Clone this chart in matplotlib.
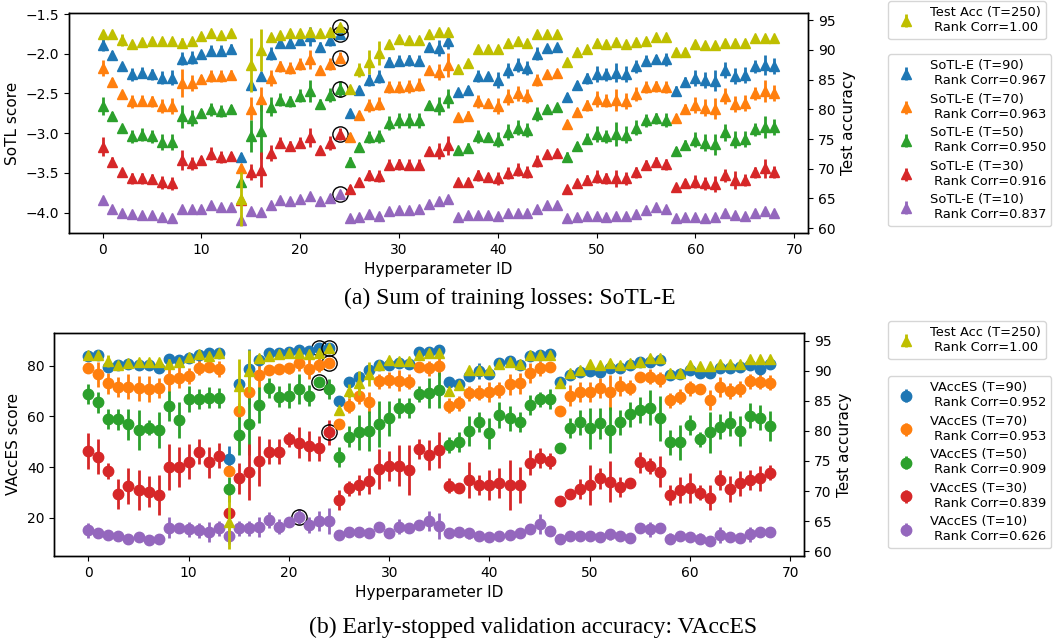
import numpy as np
import matplotlib
matplotlib.use("Agg")
import matplotlib.pyplot as plt

ids = list(range(69))

# ---------------- Panel (a): SoTL-E ----------------
test_acc = [92.6, 92.6, 91.6, 91.0, 91.35, 91.5, 91.5, 91.5, 91.2, 91.5, 92.25, 92.75, 92.5, 92.9,
            64.9, 87.4, 90.0, 92.2, 92.5, 92.75, 92.9, 93.0, 92.75, 93.0, 93.8,
            83.4, 86.6, 88.0, 89.4, 91.0, 91.8, 91.6, 91.7, 92.6, 93.0, 93.0,
            86.7, 87.7, 90.1, 90.1, 90.1, 91.2, 91.4, 91.2, 92.6, 92.7, 92.7,
            88.0, 89.7, 90.2, 91.1, 91.0, 91.35, 91.0, 91.35, 91.5, 92.1, 92.1,
            89.6, 89.7, 91.0, 90.8, 90.8, 91.1, 91.1, 91.2, 91.9, 91.9, 91.9]
test_acc_err = [0.2, 0.2, 1.0, 0.2, 0.2, 0.2, 0.2, 0.2, 0.8, 0.2, 0.2, 0.2, 0.2, 0.2,
                4.5, 4.5, 3.5, 0.4, 0.2, 0.2, 0.2, 0.3, 0.2, 0.2, 0.2,
                0.3, 1.2, 2.0, 2.0, 0.2, 0.3, 0.4, 0.3, 0.2, 0.3, 0.3,
                0.2, 0.3, 0.4, 0.2, 0.4, 0.3, 0.2, 0.2, 0.3, 0.2, 0.2,
                0.4, 0.3, 0.2, 0.2, 0.2, 0.3, 0.2, 0.2, 0.2, 0.2, 0.2,
                0.3, 0.2, 0.3, 0.2, 0.2, 0.2, 0.2, 0.2, 0.3, 0.2, 0.2]

sotl_T90 = [-1.89, -2.02, -2.16, -2.26, -2.24, -2.26, -2.30, -2.30, -2.06, -2.05, -2.00, -1.96, -1.96, -1.94,
            -3.30, -2.39, -2.28, -2.00, -1.86, -1.86, -1.83, -1.78, -1.91, -1.83, -1.75,
            -2.75, -2.46, -2.33, -2.29, -2.10, -2.09, -2.08, -2.09, -1.91, -1.93, -1.84,
            -2.48, -2.46, -2.28, -2.28, -2.33, -2.21, -2.14, -2.18, -2.00, -1.93, -1.92,
            -2.54, -2.39, -2.31, -2.25, -2.26, -2.24, -2.25, -2.16, -2.09, -2.07, -2.07,
            -2.47, -2.35, -2.30, -2.33, -2.34, -2.21, -2.28, -2.27, -2.16, -2.14, -2.15]
sotl_T70 = [-2.18, -2.35, -2.51, -2.60, -2.59, -2.60, -2.66, -2.66, -2.37, -2.37, -2.32, -2.28, -2.28, -2.27,
            -3.44, -2.69, -2.57, -2.30, -2.16, -2.18, -2.13, -2.07, -2.21, -2.13, -2.05,
            -3.05, -2.77, -2.65, -2.63, -2.42, -2.42, -2.41, -2.39, -2.21, -2.23, -2.14,
            -2.80, -2.78, -2.60, -2.62, -2.66, -2.54, -2.50, -2.53, -2.33, -2.26, -2.24,
            -2.89, -2.73, -2.65, -2.57, -2.59, -2.58, -2.59, -2.51, -2.42, -2.41, -2.42,
            -2.81, -2.69, -2.64, -2.68, -2.69, -2.53, -2.63, -2.62, -2.50, -2.47, -2.49]
sotl_T50 = [-2.66, -2.78, -2.94, -3.04, -3.02, -3.04, -3.11, -3.11, -2.79, -2.81, -2.75, -2.70, -2.72, -2.70,
            -3.62, -3.04, -2.97, -2.67, -2.58, -2.60, -2.53, -2.47, -2.63, -2.52, -2.44,
            -3.36, -3.17, -3.05, -3.04, -2.87, -2.84, -2.84, -2.84, -2.65, -2.66, -2.56,
            -3.21, -3.19, -3.04, -3.05, -3.08, -2.98, -2.93, -2.96, -2.76, -2.69, -2.67,
            -3.30, -3.16, -3.07, -3.01, -3.04, -3.01, -3.02, -2.93, -2.84, -2.81, -2.83,
            -3.23, -3.15, -3.08, -3.12, -3.14, -2.99, -3.08, -3.07, -2.95, -2.92, -2.92]
sotl_T30 = [-3.17, -3.36, -3.49, -3.57, -3.57, -3.58, -3.62, -3.63, -3.34, -3.38, -3.34, -3.26, -3.30, -3.29,
            -3.84, -3.49, -3.46, -3.25, -3.12, -3.16, -3.12, -3.05, -3.21, -3.12, -3.01,
            -3.70, -3.61, -3.53, -3.54, -3.40, -3.39, -3.40, -3.40, -3.23, -3.23, -3.15,
            -3.62, -3.61, -3.53, -3.55, -3.57, -3.50, -3.46, -3.49, -3.35, -3.26, -3.25,
            -3.70, -3.63, -3.59, -3.55, -3.57, -3.57, -3.57, -3.49, -3.40, -3.36, -3.39,
            -3.68, -3.63, -3.61, -3.63, -3.64, -3.53, -3.59, -3.59, -3.49, -3.44, -3.49]
sotl_T10 = [-3.84, -3.95, -4.00, -4.02, -4.03, -4.03, -4.05, -4.07, -3.95, -3.96, -3.95, -3.91, -3.93, -3.93,
            -4.09, -3.98, -3.99, -3.91, -3.84, -3.85, -3.83, -3.79, -3.85, -3.82, -3.77,
            -4.07, -4.05, -4.02, -4.04, -3.98, -3.97, -3.97, -3.96, -3.89, -3.86, -3.83,
            -4.05, -4.03, -4.03, -4.03, -4.04, -4.00, -4.00, -4.00, -3.95, -3.91, -3.90,
            -4.07, -4.06, -4.04, -4.04, -4.06, -4.04, -4.04, -4.02, -3.97, -3.93, -3.96,
            -4.07, -4.06, -4.05, -4.07, -4.06, -4.01, -4.03, -4.04, -4.01, -3.98, -4.00]

sotl_T90_err = [0.08, 0.05, 0.04, 0.08, 0.07, 0.07, 0.08, 0.09, 0.08, 0.08, 0.04, 0.07, 0.07, 0.06,
                0.05, 0.05, 0.05, 0.08, 0.06, 0.06, 0.06, 0.12, 0.06, 0.07, 0.05,
                0.05, 0.06, 0.08, 0.08, 0.06, 0.07, 0.07, 0.07, 0.04, 0.10, 0.10,
                0.04, 0.06, 0.08, 0.04, 0.10, 0.09, 0.09, 0.09, 0.08, 0.04, 0.04,
                0.05, 0.05, 0.07, 0.10, 0.08, 0.12, 0.10, 0.08, 0.07, 0.06, 0.08,
                0.06, 0.06, 0.10, 0.10, 0.13, 0.10, 0.10, 0.10, 0.08, 0.13, 0.10]
sotl_T70_err = [0.10, 0.05, 0.04, 0.08, 0.07, 0.07, 0.09, 0.10, 0.18, 0.10, 0.05, 0.08, 0.08, 0.06,
                0.05, 0.15, 0.15, 0.10, 0.07, 0.07, 0.08, 0.12, 0.05, 0.08, 0.07,
                0.05, 0.05, 0.08, 0.08, 0.08, 0.08, 0.08, 0.08, 0.04, 0.10, 0.15,
                0.04, 0.06, 0.08, 0.05, 0.10, 0.10, 0.09, 0.09, 0.08, 0.04, 0.04,
                0.06, 0.05, 0.07, 0.10, 0.08, 0.14, 0.10, 0.09, 0.08, 0.07, 0.08,
                0.05, 0.06, 0.10, 0.11, 0.13, 0.10, 0.10, 0.10, 0.08, 0.14, 0.10]
sotl_T50_err = [0.11, 0.05, 0.04, 0.08, 0.08, 0.08, 0.10, 0.10, 0.15, 0.10, 0.05, 0.08, 0.08, 0.06,
                0.06, 0.20, 0.35, 0.12, 0.08, 0.07, 0.08, 0.14, 0.06, 0.09, 0.10,
                0.06, 0.05, 0.08, 0.08, 0.09, 0.09, 0.09, 0.09, 0.05, 0.11, 0.12,
                0.04, 0.06, 0.08, 0.05, 0.10, 0.10, 0.09, 0.09, 0.09, 0.05, 0.04,
                0.06, 0.05, 0.07, 0.10, 0.08, 0.15, 0.11, 0.09, 0.08, 0.07, 0.09,
                0.05, 0.06, 0.10, 0.11, 0.13, 0.11, 0.11, 0.10, 0.08, 0.14, 0.10]
sotl_T30_err = [0.12, 0.06, 0.04, 0.07, 0.07, 0.06, 0.08, 0.08, 0.13, 0.08, 0.05, 0.08, 0.08, 0.05,
                0.05, 0.10, 0.22, 0.10, 0.07, 0.06, 0.07, 0.12, 0.05, 0.09, 0.08,
                0.05, 0.04, 0.07, 0.07, 0.07, 0.07, 0.07, 0.07, 0.05, 0.10, 0.12,
                0.04, 0.05, 0.07, 0.05, 0.08, 0.08, 0.08, 0.08, 0.08, 0.04, 0.04,
                0.04, 0.04, 0.06, 0.08, 0.07, 0.11, 0.08, 0.07, 0.06, 0.06, 0.07,
                0.04, 0.05, 0.08, 0.08, 0.10, 0.08, 0.11, 0.08, 0.07, 0.12, 0.08]
sotl_T10_err = [0.03, 0.02, 0.02, 0.02, 0.02, 0.02, 0.02, 0.02, 0.02, 0.02, 0.02, 0.02, 0.02, 0.02,
                0.02, 0.02, 0.04, 0.02, 0.02, 0.02, 0.02, 0.02, 0.02, 0.02, 0.02,
                0.02, 0.02, 0.02, 0.02, 0.02, 0.02, 0.02, 0.02, 0.02, 0.02, 0.03,
                0.02, 0.02, 0.02, 0.02, 0.02, 0.02, 0.02, 0.02, 0.02, 0.02, 0.02,
                0.02, 0.02, 0.02, 0.02, 0.02, 0.02, 0.02, 0.02, 0.02, 0.02, 0.02,
                0.02, 0.02, 0.02, 0.02, 0.02, 0.02, 0.02, 0.02, 0.02, 0.03, 0.02]

sotl_labels = ["SoTL-E (T=90)\n Rank Corr=0.967", "SoTL-E (T=70)\n Rank Corr=0.963",
               "SoTL-E (T=50)\n Rank Corr=0.950", "SoTL-E (T=30)\n Rank Corr=0.916",
               "SoTL-E (T=10)\n Rank Corr=0.837"]
acc_label = "Test Acc (T=250)\n Rank Corr=1.00"

# ---------------- Panel (b): VAccES ----------------
vacc_T90 = [83.9, 84.2, 79.6, 80.3, 80.5, 80.3, 80.3, 79.0, 82.6, 82.2, 83.2, 84.2, 84.9, 84.9,
            43.2, 72.6, 78.7, 82.2, 84.9, 84.9, 85.3, 86.2, 85.8, 87.1, 86.8,
            66.2, 73.7, 75.7, 78.3, 80.3, 80.3, 80.9, 80.5, 85.3, 85.3, 86.2,
            73.4, 72.6, 76.1, 77.9, 76.6, 80.9, 81.8, 80.3, 83.9, 84.2, 84.6,
            73.4, 76.3, 77.6, 77.9, 77.6, 79.2, 79.0, 80.3, 81.6, 81.6, 82.2,
            76.3, 76.6, 78.3, 77.0, 77.0, 79.2, 79.2, 79.6, 80.3, 78.7, 80.5]
vacc_T70 = [78.9, 76.6, 73.0, 71.7, 71.7, 71.1, 70.8, 71.3, 74.7, 75.3, 75.9, 79.2, 79.6, 78.7,
            38.4, 62.1, 69.7, 76.3, 78.3, 78.6, 78.9, 80.9, 78.7, 80.3, 81.2,
            57.0, 64.2, 68.0, 65.5, 73.9, 74.3, 74.1, 73.7, 79.3, 78.9, 79.9,
            64.2, 65.1, 69.1, 69.3, 69.5, 70.4, 72.6, 73.0, 77.2, 78.9, 79.3,
            62.1, 68.2, 69.5, 69.5, 71.1, 69.5, 72.1, 71.3, 75.4, 75.7, 74.6,
            66.4, 67.8, 71.1, 70.8, 66.4, 71.7, 70.0, 70.8, 73.9, 73.7, 73.3]
vacc_T50 = [68.7, 65.5, 58.9, 58.8, 56.8, 54.6, 55.5, 54.6, 64.1, 58.6, 66.8, 66.8, 67.4, 67.1,
            31.2, 52.6, 56.8, 64.5, 71.1, 67.8, 68.2, 70.8, 68.2, 73.4, 70.8,
            44.1, 52.0, 53.7, 54.2, 57.0, 59.2, 63.2, 63.4, 68.8, 69.1, 70.4,
            48.7, 50.0, 54.3, 57.9, 53.3, 60.5, 59.2, 57.9, 64.5, 66.8, 66.8,
            47.4, 55.3, 57.6, 55.3, 57.2, 54.6, 57.6, 60.8, 62.5, 63.4, 59.2,
            49.7, 49.7, 56.6, 50.9, 53.7, 55.9, 57.2, 54.2, 60.3, 59.5, 56.2]
vacc_T30 = [46.3, 44.1, 38.4, 29.3, 32.6, 30.9, 30.3, 28.9, 40.1, 40.1, 42.1, 46.1, 41.8, 44.5,
            21.7, 35.5, 37.9, 42.4, 46.1, 46.1, 50.9, 49.6, 48.4, 47.4, 53.7,
            27.0, 31.6, 32.9, 34.5, 39.2, 40.5, 40.5, 38.8, 47.1, 44.7, 46.7,
            32.6, 31.6, 34.9, 32.9, 32.9, 33.6, 32.9, 32.9, 41.7, 43.7, 42.4,
            26.7, 29.3, 31.3, 32.9, 35.5, 34.2, 32.0, 33.6, 41.8, 40.4, 38.2,
            28.9, 30.9, 31.8, 29.9, 27.9, 34.9, 31.3, 33.6, 34.9, 35.5, 37.8]
vacc_T10 = [15.1, 14.1, 13.2, 12.8, 11.6, 12.2, 11.4, 11.8, 16.1, 15.8, 15.4, 15.1, 14.5, 15.8,
            12.8, 15.8, 15.8, 16.4, 19.1, 16.4, 18.2, 20.4, 17.1, 18.7, 18.7,
            13.2, 14.5, 14.5, 14.1, 16.4, 14.1, 16.4, 15.8, 17.1, 18.7, 16.8,
            13.8, 14.2, 13.8, 12.9, 12.5, 12.9, 13.2, 14.1, 15.4, 17.4, 14.9,
            11.6, 12.9, 12.9, 12.8, 12.2, 13.4, 12.9, 12.1, 16.1, 15.4, 16.1,
            11.8, 12.8, 12.5, 11.8, 10.8, 13.2, 12.5, 12.1, 13.4, 14.2, 14.2]

vacc_T90_err = [1, 1, 1, 1, 1, 1, 1, 1, 1, 1, 1, 1, 1, 1,
                5, 1, 8, 1, 1, 1, 1, 1, 1, 1, 1,
                1, 1, 1, 1, 1, 1, 1, 1, 1, 2, 1,
                1, 2, 1, 3, 1, 1, 1, 1, 1, 1, 1,
                1, 1, 1, 1, 1, 2, 1, 1, 1, 1, 1,
                1, 1, 1, 2, 2, 1, 1, 1, 1, 1, 1]
vacc_T70_err = [1, 5, 4, 4, 5, 5, 5, 4, 5, 4, 3, 3, 2, 3,
                2, 3, 5, 5, 2, 2, 2, 3, 4, 3, 2,
                2, 3, 3, 4, 3, 3, 4, 3, 2, 3, 4,
                3, 3, 3, 3, 4, 3, 4, 4, 4, 3, 2,
                2, 4, 4, 4, 4, 7, 4, 3, 2, 3, 3,
                3, 3, 3, 2, 4, 4, 3, 3, 3, 3, 3]
vacc_T50_err = [4, 4, 4, 4, 6, 8, 3, 7, 6, 7, 5, 4, 4, 4,
                5, 8, 12, 7, 4, 4, 5, 6, 4, 2, 4,
                4, 4, 7, 8, 9, 7, 4, 4, 3, 6, 7,
                3, 4, 6, 4, 6, 5, 5, 4, 4, 3, 4,
                2, 4, 5, 8, 6, 9, 5, 5, 5, 7, 9,
                5, 7, 4, 3, 8, 5, 5, 6, 5, 5, 6]
vacc_T30_err = [7, 7, 3, 6, 7, 8, 6, 8, 9, 8, 7, 5, 6, 5,
                2, 6, 11, 10, 5, 5, 3, 6, 6, 5, 5,
                4, 3, 4, 5, 8, 6, 8, 10, 4, 6, 7,
                3, 2, 7, 4, 6, 6, 10, 7, 5, 4, 3,
                2, 2, 4, 8, 4, 8, 4, 2, 4, 3, 6,
                4, 5, 6, 3, 5, 4, 5, 5, 4, 5, 3]
vacc_T10_err = [3, 2, 2, 1, 1, 1, 1, 1, 4, 2, 3, 3, 4, 3,
                3, 3, 3, 4, 3, 3, 2, 3, 3, 4, 5,
                2, 2, 1, 1, 2, 2, 3, 2, 2, 4, 5,
                1, 2, 2, 1, 1, 2, 2, 2, 2, 4, 2,
                1, 1, 2, 2, 1, 2, 2, 2, 1, 3, 2,
                2, 1, 1, 2, 1, 3, 2, 1, 3, 1, 1]

vacc_labels = ["VAccES (T=90)\n Rank Corr=0.952", "VAccES (T=70)\n Rank Corr=0.953",
               "VAccES (T=50)\n Rank Corr=0.909", "VAccES (T=30)\n Rank Corr=0.839",
               "VAccES (T=10)\n Rank Corr=0.626"]

colors = ["#1f77b4", "#ff7f0e", "#2ca02c", "#d62728", "#9467bd"]
acc_color = "#bfbf00"

W, H = 1055, 638
fig = plt.figure(figsize=(W / 100, H / 100), dpi=100)
plt.rcParams['font.family'] = ['DejaVu Sans']


def fr(l, t, r, b):
    return [l / W, 1 - b / H, (r - l) / W, (b - t) / H]


def draw_panel(ax, series, errs, labels, marker, ms, ylabel, ylim, yticks):
    axr = ax.twinx()
    for vals, err, lab, c in zip(series, errs, labels, colors):
        ax.errorbar(ids, vals, yerr=err, fmt=marker, color=c, ms=ms,
                    elinewidth=2, capsize=0, label=lab)
    for vals in series:
        i = int(np.argmax(vals))
        ax.plot(ids[i], vals[i], 'o', mfc='none', mec='k', ms=11, mew=1.0)
    axr.errorbar(ids, test_acc, yerr=test_acc_err, fmt='^', color=acc_color, ms=7,
                 elinewidth=2, capsize=0, label=acc_label)
    i = int(np.argmax(test_acc))
    axr.plot(ids[i], test_acc[i], 'o', mfc='none', mec='k', ms=11, mew=1.0)
    ax.set_xlim(-3.4, 71.4)
    ax.set_ylim(*ylim)
    ax.set_yticks(yticks)
    axr.set_yticks([60, 65, 70, 75, 80, 85, 90, 95])
    ax.set_xticks([0, 10, 20, 30, 40, 50, 60, 70])
    ax.set_xlabel("Hyperparameter ID", fontsize=11)
    ax.set_ylabel(ylabel, fontsize=11)
    axr.set_ylabel("Test accuracy", fontsize=11)
    for a in (ax, axr):
        a.tick_params(labelsize=10)
        for s in a.spines.values():
            s.set_linewidth(1.0)
    return axr


ax1 = fig.add_axes(fr(69, 13, 808, 233))
ax1r = draw_panel(ax1, [sotl_T90, sotl_T70, sotl_T50, sotl_T30, sotl_T10],
                  [sotl_T90_err, sotl_T70_err, sotl_T50_err, sotl_T30_err, sotl_T10_err],
                  sotl_labels, '^', 7, "SoTL score", (-4.257, -1.487),
                  [-4.0, -3.5, -3.0, -2.5, -2.0, -1.5])
ax1r.set_ylim(59.2, 96.18)

ax2 = fig.add_axes(fr(54.3, 332.7, 804.3, 556))
ax2r = draw_panel(ax2, [vacc_T90, vacc_T70, vacc_T50, vacc_T30, vacc_T10],
                  [vacc_T90_err, vacc_T70_err, vacc_T50_err, vacc_T30_err, vacc_T10_err],
                  vacc_labels, 'o', 7.5, "VAccES score", (4.9, 93.0), [20, 40, 60, 80])
ax2r.set_ylim(59.2, 96.33)

for axl, axr, y1, y2 in [(ax1, ax1r, 1, 54), (ax2, ax2r, 321, 376)]:
    h, l = axr.get_legend_handles_labels()
    fig.legend(h, l, loc='upper left', bbox_to_anchor=(888 / W, 1 - y1 / H),
               fontsize=9.4, borderaxespad=0, labelspacing=0.42)
    h, l = axl.get_legend_handles_labels()
    fig.legend(h, l, loc='upper left', bbox_to_anchor=(888 / W, 1 - y2 / H),
               fontsize=9.4, borderaxespad=0, labelspacing=0.42)

fig.text(510 / W, 1 - 298 / H, "(a) Sum of training losses: SoTL-E", ha='center', va='center',
         fontsize=17, family='Liberation Serif')
fig.text(533 / W, 1 - 627 / H, "(b) Early-stopped validation accuracy: VAccES", ha='center',
         va='center', fontsize=17, family='Liberation Serif')

fig.savefig("out.png", dpi=100)
